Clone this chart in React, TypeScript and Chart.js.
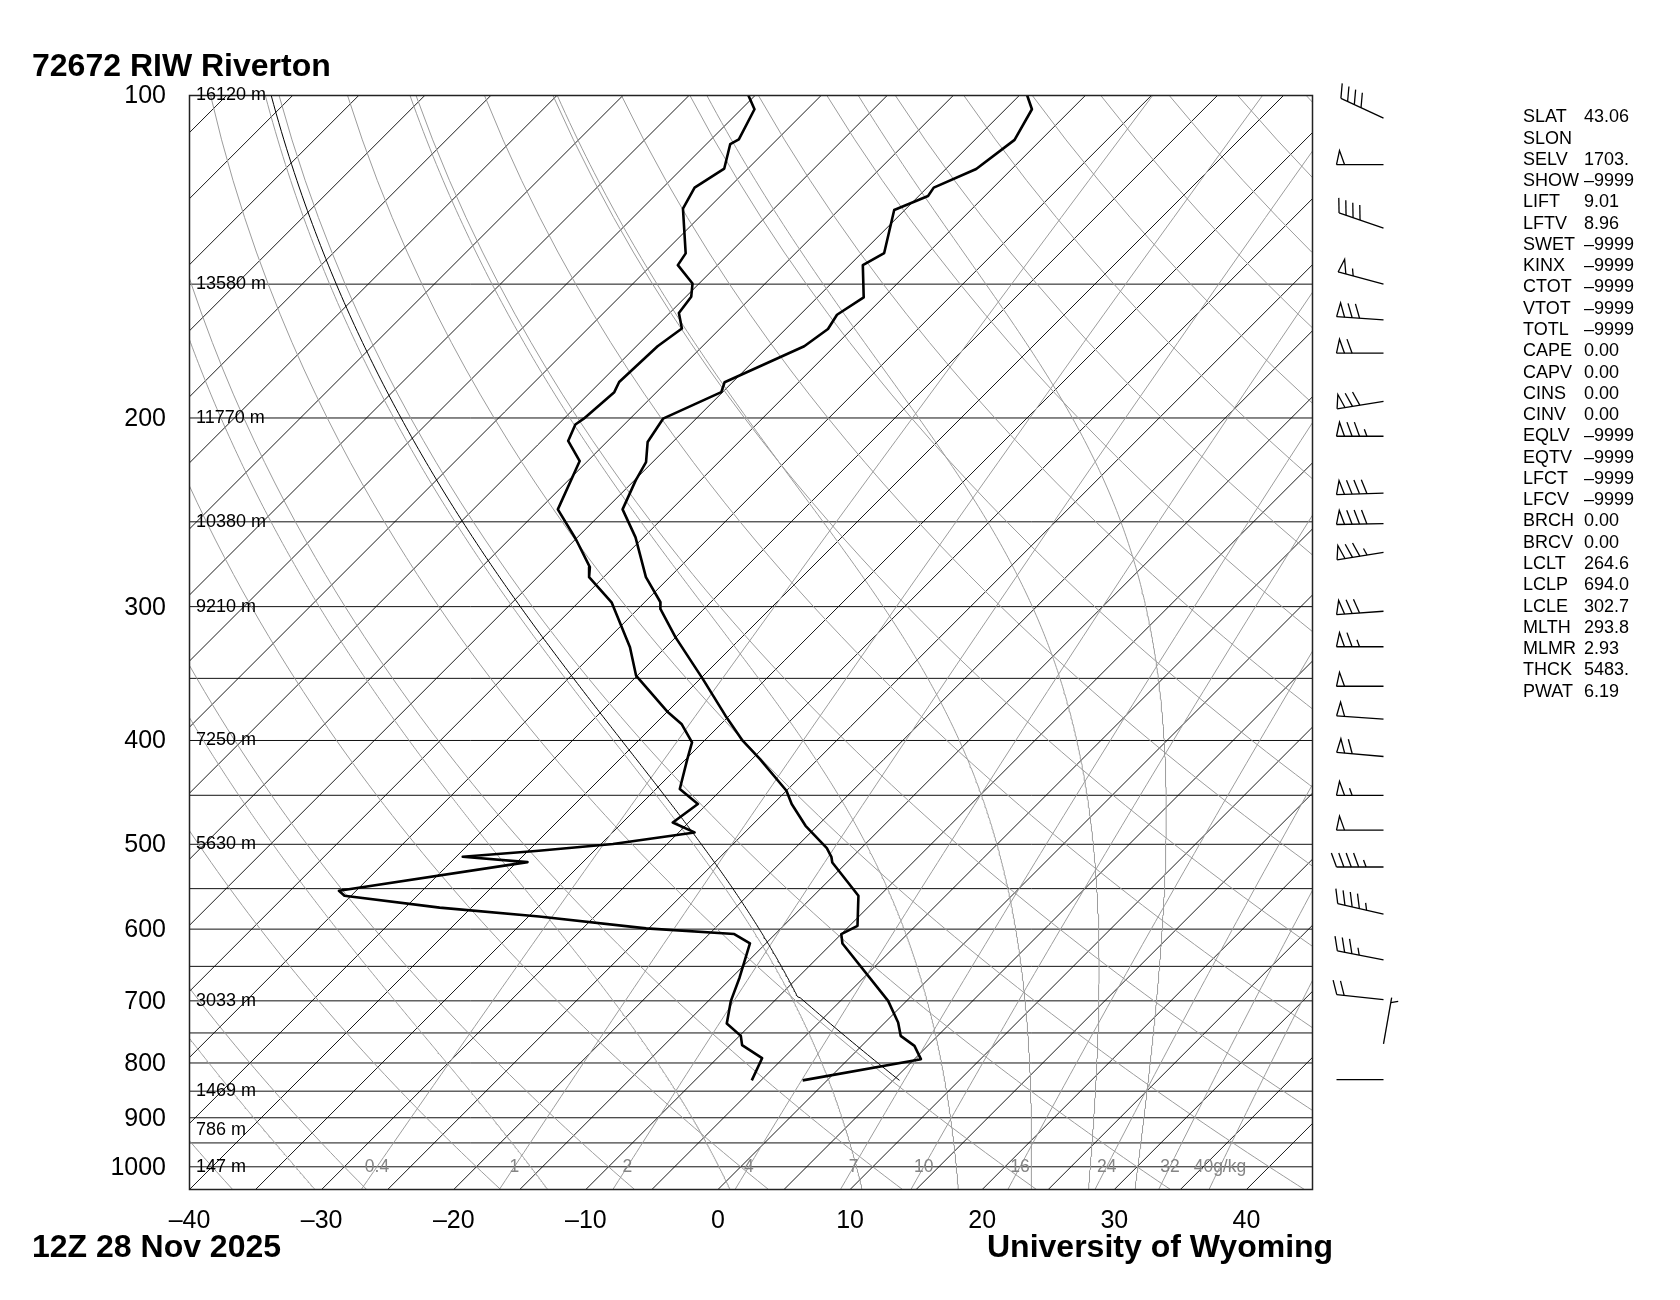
import React, { useEffect, useRef } from "react";
import { Chart, registerables } from "chart.js";

Chart.register(...registerables);

// ---------------- layout constants ----------------
const CANVAS_W = 1680;
const CANVAS_H = 1300;
const PLOT = { left: 189.5, top: 95.5, right: 1312.5, bottom: 1189.5 };
const T_MIN = -40;
const T_MAX = 45;
const P_TOP = 100;
const P_BOTTOM = 1050;
// 45-degree isotherms in pixel space
const SKEW =
  (PLOT.bottom - PLOT.top) / Math.log10(P_BOTTOM / P_TOP) /
  ((PLOT.right - PLOT.left) / (T_MAX - T_MIN));

// ---------------- sounding data ----------------
const TEMP_P = [100, 103, 110, 117.1, 121.9, 124.1, 127.9, 140.3, 144, 154.3, 160.2, 165.2, 171.4, 185.2, 189.2, 200.3, 210.6, 219.9, 228.7, 243.4, 258.5, 281.6, 297.2, 301.5, 320.5, 350.4, 379.2, 400.2, 416.3, 445.6, 458.5, 480.5, 504.1, 513.6, 519.9, 558.5, 595.7, 606.4, 618.8, 700, 733.4, 754.7, 771.1, 793.5, 830.5];
const TEMP_C = [-59.4, -58.0, -57.0, -57.7, -59.5, -59.3, -60.8, -58.3, -59.0, -56.5, -57.2, -56.8, -57.3, -60.6, -60.1, -62.5, -61.9, -60.5, -59.9, -58.7, -55.6, -51.8, -48.8, -48.3, -45.0, -39.8, -35.3, -32.1, -29.4, -25.0, -23.6, -20.9, -17.6, -16.6, -16.1, -11.6, -9.4, -10.0, -9.2, -1.4, 1.0, 2.2, 4.0, 5.5, -1.85];

const DEW_P = [100, 103, 109.9, 111, 117, 121.9, 127.5, 140.4, 144, 149.8, 154.1, 159.6, 165, 171.4, 185.1, 189.2, 200.3, 202.8, 210.1, 219.4, 243.4, 259.4, 275.6, 281.6, 297.2, 327.4, 347.9, 376.5, 386, 401.7, 416.3, 444, 458.5, 477.1, 487.4, 499.7, 507.0, 513.6, 519.5, 552.5, 558.5, 572.9, 584, 599, 606.4, 618.8, 666, 700, 734.9, 754.7, 769.9, 791.8, 830.5];
const DEW_C = [-80.5, -79.0, -77.9, -78.2, -76.8, -77.6, -76.9, -73.3, -73.0, -70.5, -69.6, -69.3, -67.9, -68.4, -68.6, -68.2, -68.5, -68.7, -68.0, -65.6, -63.6, -60.0, -56.8, -56.1, -52.5, -47.7, -45.1, -39.9, -38.0, -35.8, -34.9, -33.2, -30.7, -31.2, -28.8, -34.1, -39.2, -44.5, -39.2, -51.3, -50.5, -42.4, -34.2, -25.2, -18.1, -16.2, -14.4, -13.3, -11.9, -9.9, -9.1, -6.6, -5.7];

const WIND_P = [105, 116, 133, 150, 162, 174, 193, 208, 235, 251, 267, 303, 327, 356, 382, 414, 450, 485, 525, 581, 641, 698, 768, 829];
const WIND_DIR = [295, 270, 289, 285, 274, 270, 261, 270, 268, 269, 261, 266, 270, 270, 274, 275, 270, 270, 270, 283, 281, 276, 10, 270];
const WIND_KT = [40, 50, 40, 55, 70, 60, 70, 75, 80, 80, 75, 70, 65, 50, 50, 60, 55, 50, 45, 45, 35, 20, 5, 2];

// parcel (from the station parameters)
const PARCEL_SFC_P = 830.5;
const PARCEL_LCL_P = 694.0;
const PARCEL_LCL_T = 264.6;
const PARCEL_THETA = 293.8;

// ---------------- axes / background ----------------
const P_TICKS = [100, 200, 300, 400, 500, 600, 700, 800, 900, 1000];
const T_TICKS = [-40, -30, -20, -10, 0, 10, 20, 30, 40];
const P_LINES = [150, 200, 250, 300, 350, 400, 450, 500, 550, 600, 650, 700, 750, 800, 850, 900, 950, 1000];
const HEIGHT_P = [100, 150, 200, 250, 300, 400, 500, 700, 850, 925, 1000];
const HEIGHT_LABELS = ["16120 m", "13580 m", "11770 m", "10380 m", "9210 m", "7250 m", "5630 m", "3033 m", "1469 m", "786 m", "147 m"];
const MIX_RATIOS = [0.4, 1, 2, 4, 7, 10, 16, 24, 32, 40];
const MIX_LABELS = ["0.4", "1", "2", "4", "7", "10", "16", "24", "32", "40g/kg"];
const ISOTHERM_STEP = 5;
const DRY_THETA_C = [-40, -30, -20, -10, 0, 10, 20, 30, 40, 50, 60, 70, 80, 90, 100, 110, 120, 130, 140, 150, 160, 170, 180];
const MOIST_THETA_E = [240, 260, 280, 300, 320, 340, 360, 380];

const STAT_NAMES = ["SLAT", "SLON", "SELV", "SHOW", "LIFT", "LFTV", "SWET", "KINX", "CTOT", "VTOT", "TOTL", "CAPE", "CAPV", "CINS", "CINV", "EQLV", "EQTV", "LFCT", "LFCV", "BRCH", "BRCV", "LCLT", "LCLP", "LCLE", "MLTH", "MLMR", "THCK", "PWAT"];
const STAT_VALUES = ["43.06", "", "1703.", "\u20139999", "9.01", "8.96", "\u20139999", "\u20139999", "\u20139999", "\u20139999", "\u20139999", "0.00", "0.00", "0.00", "0.00", "\u20139999", "\u20139999", "\u20139999", "\u20139999", "0.00", "0.00", "264.6", "694.0", "302.7", "293.8", "2.93", "5483.", "6.19"];

const TITLE = "72672 RIW Riverton";
const DATE_TEXT = "12Z 28 Nov 2025";
const CREDIT = "University of Wyoming";
const FONT = "'Liberation Sans', Arial, Helvetica, sans-serif";

// ---------------- physics helpers ----------------
const RD = 287.04;
const CP = 1005.7;
const LV = 2.501e6;
const EPS = 0.622;
const KAPPA = RD / CP;

const skewX = (tC: number, p: number) => tC + SKEW * Math.log10(P_BOTTOM / p);
const esat = (tC: number) => 6.112 * Math.exp((17.67 * tC) / (tC + 243.5));
const wsat = (tK: number, p: number) => {
  const e = esat(tK - 273.15);
  return (EPS * e) / Math.max(p - e, 1e-6);
};
const moistLapse = (tK: number, p: number) => {
  const rs = wsat(tK, p);
  return (RD * tK + LV * rs) / (p * (CP + (LV * LV * rs * EPS) / (RD * tK * tK)));
};
const thetaE = (tK: number, p: number) =>
  tK * Math.pow(1000 / p, KAPPA) * Math.exp((LV * wsat(tK, p)) / (CP * tK));
const dewFromMix = (wG: number, p: number) => {
  const e = (wG * p) / (622 + wG);
  const l = Math.log(e / 6.112);
  return (243.5 * l) / (17.67 - l);
};

function moistPath(tK0: number, p0: number, pEnd: number) {
  const pts: { x: number; y: number }[] = [];
  let t = tK0;
  let p = p0;
  const dp = -2;
  while (p > pEnd) {
    pts.push({ x: skewX(t - 273.15, p), y: p });
    const k1 = moistLapse(t, p);
    const k2 = moistLapse(t + (k1 * dp) / 2, p + dp / 2);
    t += k2 * dp;
    p += dp;
  }
  pts.push({ x: skewX(t - 273.15, p), y: p });
  return pts;
}

function solveThetaE(target: number, p: number) {
  let lo = 180;
  let hi = 330;
  for (let i = 0; i < 60; i++) {
    const mid = (lo + hi) / 2;
    if (thetaE(mid, p) < target) lo = mid;
    else hi = mid;
  }
  return (lo + hi) / 2;
}

function lineDataset(data: { x: number; y: number }[], color: string, width: number, order: number) {
  return {
    data,
    showLine: true,
    pointRadius: 0,
    pointHoverRadius: 0,
    borderColor: color,
    backgroundColor: color,
    borderWidth: width,
    fill: false,
    tension: 0,
    clip: 0,
    order,
    borderJoinStyle: "round" as const,
  };
}

function buildDatasets() {
  const ds: any[] = [];
  // sounding
  ds.push(lineDataset(TEMP_P.map((p, i) => ({ x: skewX(TEMP_C[i], p), y: p })), "#000", 2.6, 0));
  ds.push(lineDataset(DEW_P.map((p, i) => ({ x: skewX(DEW_C[i], p), y: p })), "#000", 2.6, 0));
  // parcel path
  const parcel: { x: number; y: number }[] = [];
  for (let p = PARCEL_SFC_P; p > PARCEL_LCL_P; p -= 5) {
    const t = PARCEL_THETA * Math.pow(p / 1000, KAPPA);
    parcel.push({ x: skewX(t - 273.15, p), y: p });
  }
  moistPath(PARCEL_LCL_T, PARCEL_LCL_P, P_TOP).forEach((pt) => parcel.push(pt));
  ds.push(lineDataset(parcel, "#000", 1, 1));

  const GRAY = "#9c9c9c";
  // mixing ratio lines
  MIX_RATIOS.forEach((w) => {
    const pts: { x: number; y: number }[] = [];
    for (let p = P_BOTTOM; p >= P_TOP; p -= 10) pts.push({ x: skewX(dewFromMix(w, p), p), y: p });
    ds.push(lineDataset(pts, GRAY, 1, 3));
  });
  // moist adiabats
  MOIST_THETA_E.forEach((te) => {
    const t0 = solveThetaE(te, P_BOTTOM);
    ds.push(lineDataset(moistPath(t0, P_BOTTOM, P_TOP), GRAY, 1, 3));
  });
  // dry adiabats
  DRY_THETA_C.forEach((thC) => {
    const pts: { x: number; y: number }[] = [];
    for (let p = P_BOTTOM; p >= P_TOP; p -= 10) {
      const t = (thC + 273.15) * Math.pow(p / 1000, KAPPA);
      pts.push({ x: skewX(t - 273.15, p), y: p });
    }
    ds.push(lineDataset(pts, GRAY, 1, 3));
  });
  // isotherms
  const tLow = Math.floor((T_MIN - SKEW * Math.log10(P_BOTTOM / P_TOP)) / ISOTHERM_STEP) * ISOTHERM_STEP;
  for (let t = tLow; t <= T_MAX; t += ISOTHERM_STEP) {
    ds.push(lineDataset([{ x: skewX(t, P_BOTTOM), y: P_BOTTOM }, { x: skewX(t, P_TOP), y: P_TOP }], "#000", 0.9, 4));
  }
  return ds;
}

function drawBarb(ctx: CanvasRenderingContext2D, x0: number, y0: number, dir: number, spd: number) {
  const L = 47;
  const rad = (dir * Math.PI) / 180;
  const ux = Math.sin(rad);
  const uy = -Math.cos(rad);
  const nx = -uy;
  const ny = ux;
  const tipX = x0 + ux * L;
  const tipY = y0 + uy * L;
  const P = (d: number) => [tipX - ux * d, tipY - uy * d];
  ctx.beginPath();
  ctx.moveTo(x0, y0);
  ctx.lineTo(tipX, tipY);
  ctx.stroke();
  let s = Math.round(spd / 5) * 5;
  const pennants = Math.floor(s / 50);
  s -= pennants * 50;
  const full = Math.floor(s / 10);
  s -= full * 10;
  const half = s >= 5 ? 1 : 0;
  const lean = (20 * Math.PI) / 180;
  let pos = 0;
  for (let i = 0; i < pennants; i++) {
    const a = P(pos);
    const b = P(pos + 8);
    const ap = P(pos + 3);
    ctx.beginPath();
    ctx.moveTo(a[0], a[1]);
    ctx.lineTo(ap[0] + nx * 14, ap[1] + ny * 14);
    ctx.lineTo(b[0], b[1]);
    ctx.stroke();
    pos += 8;
  }
  if (pennants > 0) pos += 7.6;
  const barb = (len: number) => {
    const a = P(pos);
    ctx.beginPath();
    ctx.moveTo(a[0], a[1]);
    ctx.lineTo(a[0] + len * (nx * Math.cos(lean) + ux * Math.sin(lean)), a[1] + len * (ny * Math.cos(lean) + uy * Math.sin(lean)));
    ctx.stroke();
  };
  for (let i = 0; i < full; i++) {
    barb(15);
    pos += 7.4;
  }
  if (half) {
    if (pennants === 0 && full === 0) pos = 5;
    barb(7.5);
  }
}

const skewPlugin = {
  id: "skewtDecor",
  beforeDatasetsDraw(chart: any) {
    const { ctx, chartArea: a, scales } = chart;
    ctx.save();
    ctx.strokeStyle = "#111";
    ctx.lineWidth = 1;
    P_LINES.forEach((p) => {
      const y = scales.y.getPixelForValue(p);
      ctx.beginPath();
      ctx.moveTo(a.left, y);
      ctx.lineTo(a.right, y);
      ctx.stroke();
    });
    ctx.restore();
  },
  afterDraw(chart: any) {
    const { ctx, chartArea: a, scales } = chart;
    const xs = scales.x;
    const ys = scales.y;
    ctx.save();
    // frame
    ctx.strokeStyle = "#222";
    ctx.lineWidth = 1.5;
    ctx.strokeRect(a.left, a.top, a.right - a.left, a.bottom - a.top);

    // height labels
    ctx.fillStyle = "#000";
    ctx.font = `18px ${FONT}`;
    ctx.textAlign = "left";
    ctx.textBaseline = "middle";
    HEIGHT_P.forEach((p, i) => {
      ctx.fillText(HEIGHT_LABELS[i], a.left + 6.5, ys.getPixelForValue(p));
    });

    // mixing ratio labels
    ctx.fillStyle = "#858585";
    ctx.font = `17.5px ${FONT}`;
    ctx.textAlign = "center";
    MIX_RATIOS.forEach((w, i) => {
      const x = xs.getPixelForValue(skewX(dewFromMix(w, 1000), 1000));
      ctx.fillText(MIX_LABELS[i], x, ys.getPixelForValue(1000));
    });

    // pressure labels
    ctx.fillStyle = "#000";
    ctx.font = `25px ${FONT}`;
    ctx.textAlign = "right";
    P_TICKS.forEach((p) => ctx.fillText(String(p), a.left - 23.5, ys.getPixelForValue(p) + 1));

    // temperature labels
    ctx.textAlign = "center";
    T_TICKS.forEach((t) => {
      const label = t < 0 ? "\u2013" + Math.abs(t) : String(t);
      ctx.fillText(label, xs.getPixelForValue(skewX(t, P_BOTTOM)), a.bottom + 31.5);
    });

    // titles
    ctx.font = `bold 32px ${FONT}`;
    ctx.textAlign = "left";
    ctx.textBaseline = "alphabetic";
    ctx.fillText(TITLE, 32, 76);
    ctx.fillText(DATE_TEXT, 32, 1256.5);
    ctx.fillText(CREDIT, 987, 1256.5);

    // station parameters
    ctx.font = `18px ${FONT}`;
    STAT_NAMES.forEach((n, i) => {
      const y = 122.3 + i * 21.27;
      ctx.fillText(n, 1523, y);
      ctx.fillText(STAT_VALUES[i], 1584, y);
    });

    // wind barbs
    ctx.strokeStyle = "#000";
    ctx.lineWidth = 1.3;
    ctx.lineJoin = "miter";
    const bx = a.right + 71;
    WIND_P.forEach((p, i) => drawBarb(ctx, bx, ys.getPixelForValue(p), WIND_DIR[i], WIND_KT[i]));
    ctx.restore();
  },
};

export default function App() {
  const canvasRef = useRef<HTMLCanvasElement>(null);
  useEffect(() => {
    const canvas = canvasRef.current;
    if (!canvas) return;
    const chart = new Chart(canvas, {
      type: "scatter",
      data: { datasets: buildDatasets() },
      options: {
        animation: false,
        responsive: false,
        maintainAspectRatio: false,
        devicePixelRatio: 1,
        events: [],
        layout: {
          padding: {
            left: PLOT.left,
            top: PLOT.top,
            right: CANVAS_W - PLOT.right,
            bottom: CANVAS_H - PLOT.bottom,
          },
        },
        plugins: { legend: { display: false }, tooltip: { enabled: false } },
        scales: {
          x: { type: "linear", min: T_MIN, max: T_MAX, display: false },
          y: { type: "logarithmic", min: P_TOP, max: P_BOTTOM, reverse: true, display: false },
        },
      },
      plugins: [skewPlugin],
    } as any);
    return () => chart.destroy();
  }, []);
  return (
    <div style={{ position: "absolute", left: 0, top: 0, width: CANVAS_W, height: CANVAS_H, background: "#fff" }}>
      <canvas ref={canvasRef} width={CANVAS_W} height={CANVAS_H} style={{ width: CANVAS_W, height: CANVAS_H, display: "block" }} />
    </div>
  );
}
